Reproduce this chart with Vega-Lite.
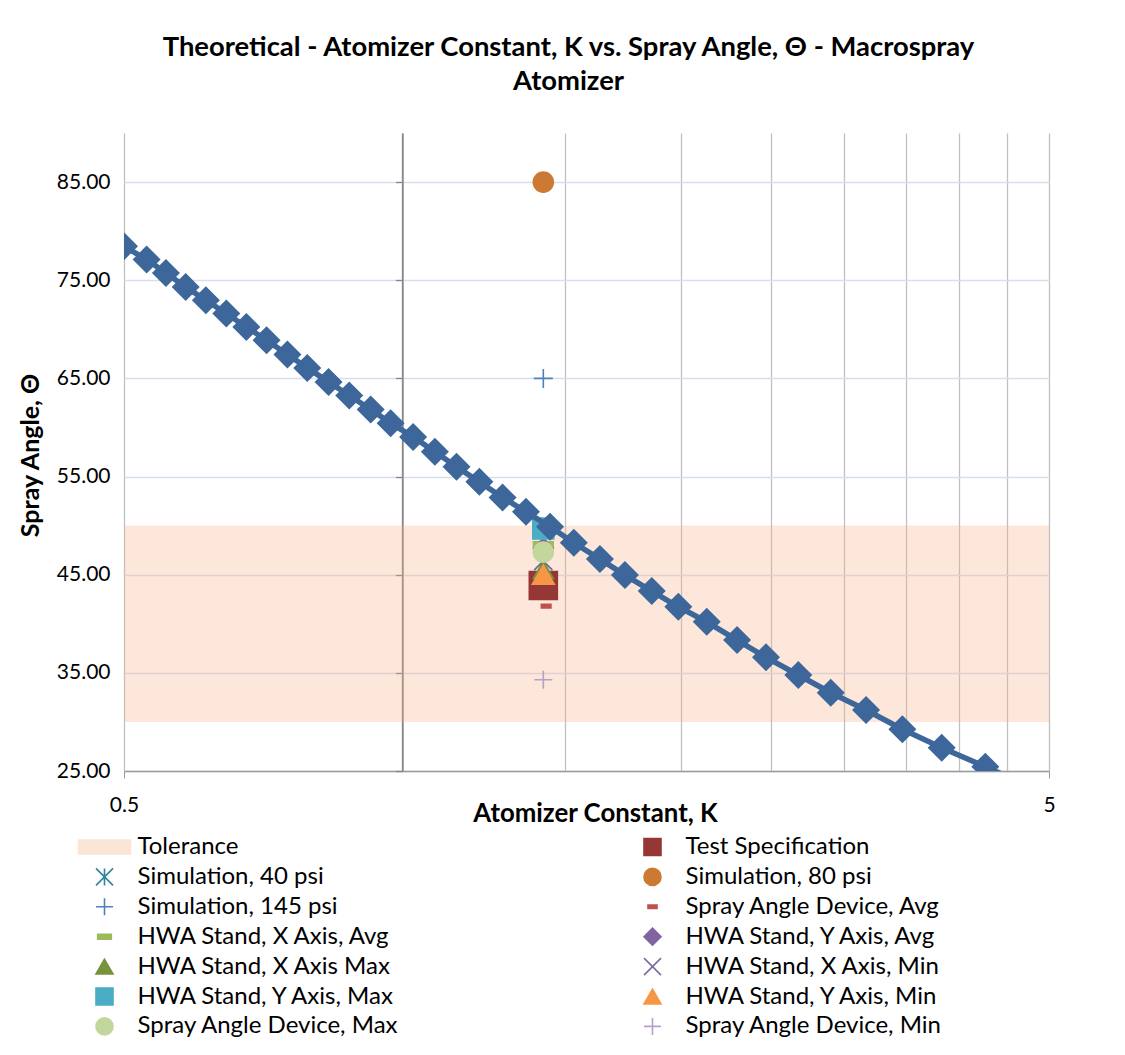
{
  "$schema": "https://vega.github.io/schema/vega-lite/v6.json",
  "width": 925,
  "height": 638,
  "autosize": "none",
  "padding": {"left": 124, "top": 133, "right": 76, "bottom": 284},
  "background": "white",
  "config": {"view": {"stroke": null}, "font": "Lato"},
  "title": {
    "text": ["Theoretical - Atomizer Constant, K vs. Spray Angle, Θ - Macrospray", "Atomizer"],
    "font": "Lato", "fontSize": 27.4, "fontWeight": "bold", "color": "#000000",
    "anchor": "middle", "frame": "group", "dx": -18, "offset": 38, "lineHeight": 34
  },
  "datasets": {
    "band": [{"x0": 0.5, "x1": 5, "y0": 30, "y1": 50}],
    "theory": [
      {"K": 0.500, "theta": 78.46}, {"K": 0.529, "theta": 77.11}, {"K": 0.555, "theta": 75.74},
      {"K": 0.583, "theta": 74.32}, {"K": 0.613, "theta": 72.96}, {"K": 0.645, "theta": 71.61},
      {"K": 0.678, "theta": 70.24}, {"K": 0.713, "theta": 68.89}, {"K": 0.751, "theta": 67.43},
      {"K": 0.789, "theta": 66.07}, {"K": 0.832, "theta": 64.64}, {"K": 0.876, "theta": 63.26},
      {"K": 0.924, "theta": 61.83}, {"K": 0.971, "theta": 60.44}, {"K": 1.027, "theta": 59.04},
      {"K": 1.084, "theta": 57.52}, {"K": 1.144, "theta": 55.99}, {"K": 1.211, "theta": 54.46},
      {"K": 1.283, "theta": 52.87}, {"K": 1.360, "theta": 51.41}, {"K": 1.444, "theta": 49.88},
      {"K": 1.532, "theta": 48.25}, {"K": 1.635, "theta": 46.59}, {"K": 1.740, "theta": 44.96},
      {"K": 1.860, "theta": 43.33}, {"K": 1.987, "theta": 41.73}, {"K": 2.133, "theta": 40.20},
      {"K": 2.300, "theta": 38.34}, {"K": 2.472, "theta": 36.58}, {"K": 2.679, "theta": 34.78},
      {"K": 2.904, "theta": 32.97}, {"K": 3.171, "theta": 31.21}, {"K": 3.471, "theta": 29.25},
      {"K": 3.828, "theta": 27.37}, {"K": 4.267, "theta": 25.44}, {"K": 4.800, "theta": 23.30}
    ],
    "obs": [
      {"series": "Test Specification", "K": 1.42, "theta": 43.9},
      {"series": "Simulation, 40 psi", "K": 1.42, "theta": 46.4},
      {"series": "Simulation, 80 psi", "K": 1.42, "theta": 85.0},
      {"series": "Simulation, 145 psi", "K": 1.42, "theta": 65.0},
      {"series": "Spray Angle Device, Avg", "K": 1.43, "theta": 41.8},
      {"series": "HWA Stand, X Axis, Avg", "K": 1.42, "theta": 48.0},
      {"series": "HWA Stand, Y Axis, Avg", "K": 1.42, "theta": 47.7},
      {"series": "HWA Stand, X Axis Max", "K": 1.42, "theta": 45.5},
      {"series": "HWA Stand, X Axis, Min", "K": 1.42, "theta": 46.4},
      {"series": "HWA Stand, Y Axis, Max", "K": 1.42, "theta": 49.7},
      {"series": "HWA Stand, Y Axis, Min", "K": 1.42, "theta": 45.0},
      {"series": "Spray Angle Device, Max", "K": 1.42, "theta": 47.3},
      {"series": "Spray Angle Device, Min", "K": 1.42, "theta": 34.3}
    ]
  },
  "layer": [
    {
      "data": {"name": "band"},
      "mark": {"type": "rect", "color": "#f4b183", "opacity": 0.3},
      "encoding": {
        "x": {
          "field": "x0", "type": "quantitative",
          "scale": {"type": "log", "domain": [0.5, 5], "nice": false},
          "axis": {
            "values": [0.5, 1, 1.5, 2, 2.5, 3, 3.5, 4, 4.5, 5],
            "labelExpr": "datum.value == 0.5 ? '0.5' : (datum.value == 5 ? '5' : '')",
            "labelFlush": false, "labelOverlap": false,
            "grid": true,
            "gridColor": {"condition": {"test": "datum.value == 1", "value": "#868686"}, "value": "#c0c0c0"},
            "gridWidth": 1.3,
            "ticks": true, "tickSize": 7, "tickColor": "#9a9a9a",
            "tickOpacity": {"condition": {"test": "datum.value == 0.5 || datum.value == 5", "value": 1}, "value": 0},
            "domain": true, "domainColor": "#9a9a9a", "domainWidth": 1.3,
            "labelFont": "Lato", "labelFontSize": 21, "labelColor": "#000000", "labelPadding": 16,
            "title": "Atomizer Constant, K", "titleFont": "Lato", "titleFontSize": 25.8, "titleFontWeight": "bold",
            "titleColor": "#000000", "titleX": 471, "titleY": 42, "titleBaseline": "middle", "titleAlign": "center"
          }
        },
        "x2": {"field": "x1"},
        "y": {
          "field": "y0", "type": "quantitative",
          "scale": {"domain": [25, 90], "nice": false, "zero": false},
          "axis": {
            "values": [25, 35, 45, 55, 65, 75, 85], "format": ".2f",
            "grid": true, "gridColor": "#d5e0ef", "gridWidth": 1.3,
            "domain": false, "ticks": false, "tickSize": 0,
            "labelPadding": 14, "labelFont": "Lato", "labelFontSize": 21, "labelColor": "#000000",
            "title": "Spray Angle, Θ", "titleFont": "Lato", "titleFontSize": 25, "titleFontWeight": "bold",
            "titleColor": "#000000", "titleAngle": -90, "titleX": -94, "titleY": 322,
            "titleBaseline": "middle", "titleAlign": "center"
          }
        },
        "y2": {"field": "y1"}
      }
    },
    {
      "data": {"name": "obs"},
      "mark": {"type": "point", "filled": true, "strokeWidth": 1.6, "opacity": 1, "clip": true},
      "encoding": {
        "x": {"field": "K", "type": "quantitative"},
        "y": {"field": "theta", "type": "quantitative", "axis": null},
        "color": {
          "field": "series", "type": "nominal",
          "scale": {
            "domain": ["Tolerance", "Test Specification", "Simulation, 40 psi", "Simulation, 80 psi", "Simulation, 145 psi", "Spray Angle Device, Avg", "HWA Stand, X Axis, Avg", "HWA Stand, Y Axis, Avg", "HWA Stand, X Axis Max", "HWA Stand, X Axis, Min", "HWA Stand, Y Axis, Max", "HWA Stand, Y Axis, Min", "Spray Angle Device, Max", "Spray Angle Device, Min"],
            "range": ["#fbe5d6", "#953735", "#31849b", "#cc7a33", "#4f81bd", "#c0504d", "#9bbb59", "#8064a2", "#77933c", "#7f6aa0", "#4bacc6", "#f79646", "#c3d69b", "#b3a2c7"]
          },
          "legend": {
            "orient": "none", "legendX": -31.5, "legendY": 702, "columns": 2, "direction": "horizontal", "title": null,
            "symbolSize": 289, "symbolStrokeWidth": 1.6,
            "labelFont": "Lato", "labelFontSize": 24, "labelColor": "#000000", "labelOffset": 21, "labelLimit": 400,
            "rowPadding": 5.9, "columnPadding": 241,
            "encode": {
              "symbols": {
                "update": {
                  "fill": {"signal": "scale('color', datum.value)"},
                  "stroke": {"signal": "scale('color', datum.value)"},
                  "strokeWidth": {"value": 1.6},
                  "size": {"value": 289},
                  "opacity": {"value": 1}
                }
              }
            }
          }
        },
        "shape": {
          "field": "series", "type": "nominal",
          "scale": {
            "domain": ["Tolerance", "Test Specification", "Simulation, 40 psi", "Simulation, 80 psi", "Simulation, 145 psi", "Spray Angle Device, Avg", "HWA Stand, X Axis, Avg", "HWA Stand, Y Axis, Avg", "HWA Stand, X Axis Max", "HWA Stand, X Axis, Min", "HWA Stand, Y Axis, Max", "HWA Stand, Y Axis, Min", "Spray Angle Device, Max", "Spray Angle Device, Min"],
            "range": ["M-3.06,-0.82H3.06V0.82H-3.06Z", "square", "M-1,-1L1,1M1,-1L-1,1M0,-1L0,1", "circle", "M-1,0L1,0M0,-1L0,1", "M-0.53,-0.2H0.53V0.2H-0.53Z", "M-0.8,-0.28H0.8V0.28H-0.8Z", "diamond", "triangle-up", "M-1,-1L1,1M1,-1L-1,1", "square", "triangle-up", "circle", "M-1,0L1,0M0,-1L0,1"]
          }
        },
        "size": {
          "condition": [
            {"test": "datum.series == 'Test Specification'", "value": 784},
            {"test": "datum.series == 'HWA Stand, X Axis, Avg'", "value": 600},
            {"test": "datum.series == 'HWA Stand, Y Axis, Min'", "value": 484},
            {"test": "datum.series == 'HWA Stand, Y Axis, Max'", "value": 441},
            {"test": "datum.series == 'Simulation, 145 psi'", "value": 361},
            {"test": "datum.series == 'Spray Angle Device, Avg' || datum.series == 'Simulation, 40 psi' || datum.series == 'HWA Stand, X Axis, Min' || datum.series == 'Spray Angle Device, Min'", "value": 324}
          ],
          "value": 400
        },
        "stroke": {
          "field": "series", "type": "nominal", "legend": null,
          "scale": {
            "domain": ["Tolerance", "Test Specification", "Simulation, 40 psi", "Simulation, 80 psi", "Simulation, 145 psi", "Spray Angle Device, Avg", "HWA Stand, X Axis, Avg", "HWA Stand, Y Axis, Avg", "HWA Stand, X Axis Max", "HWA Stand, X Axis, Min", "HWA Stand, Y Axis, Max", "HWA Stand, Y Axis, Min", "Spray Angle Device, Max", "Spray Angle Device, Min"],
            "range": ["#fbe5d6", "#953735", "#31849b", "#cc7a33", "#4f81bd", "#c0504d", "#9bbb59", "#8064a2", "#77933c", "#7f6aa0", "#4bacc6", "#f79646", "#c3d69b", "#b3a2c7"]
          }
        }
      }
    },
    {
      "data": {"name": "theory"},
      "mark": {"type": "line", "color": "#3d679b", "strokeWidth": 5.5, "clip": true},
      "encoding": {
        "x": {"field": "K", "type": "quantitative"},
        "y": {
          "field": "theta", "type": "quantitative",
          "axis": {
            "orient": "left", "offset": -278.5, "values": [25, 35, 45, 55, 65, 75, 85],
            "labels": false, "grid": false, "domain": true, "domainColor": "#868686", "domainWidth": 1.3,
            "ticks": true, "tickColor": "#868686", "tickSize": 7, "tickWidth": 1.3, "title": null
          }
        }
      }
    },
    {
      "data": {"name": "theory"},
      "mark": {"type": "point", "filled": true, "shape": "diamond", "size": 784, "color": "#3d679b", "opacity": 1, "clip": true},
      "encoding": {
        "x": {"field": "K", "type": "quantitative"},
        "y": {"field": "theta", "type": "quantitative", "axis": null}
      }
    }
  ],
  "resolve": {"axis": {"y": "independent"}}
}
